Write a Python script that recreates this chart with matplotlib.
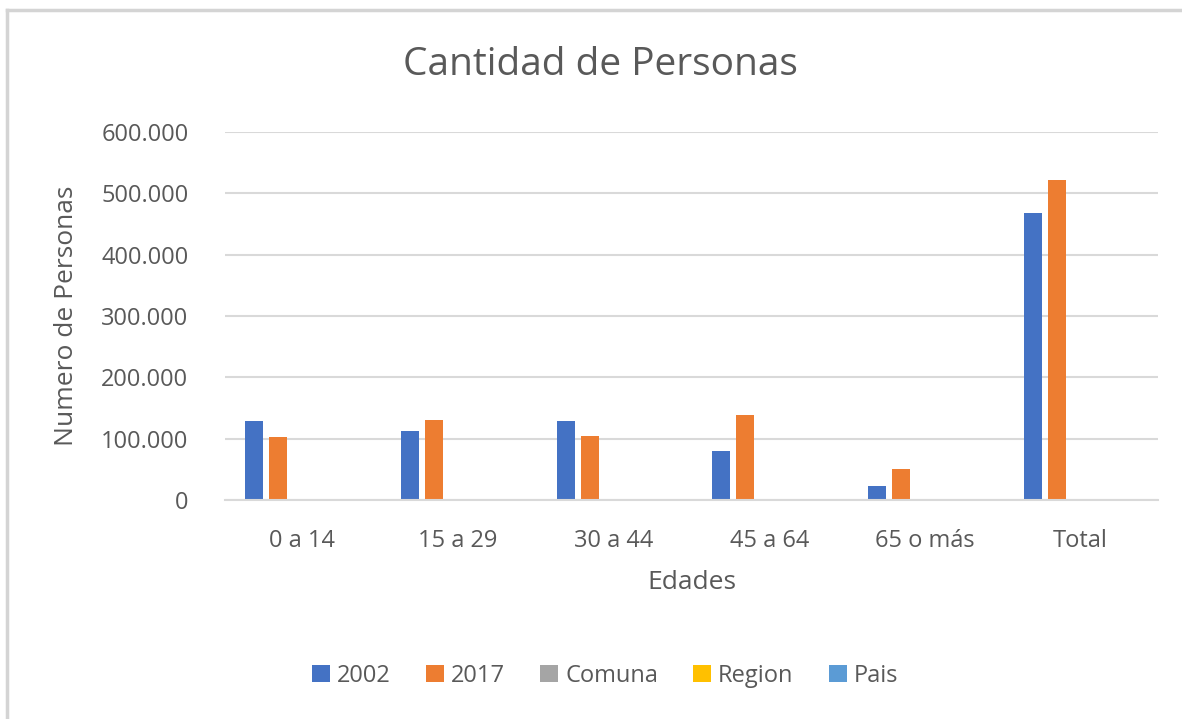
import numpy as np
import matplotlib
matplotlib.use("Agg")
import matplotlib.pyplot as plt
from matplotlib.ticker import FuncFormatter

# --- data ---
categories = ["0 a 14", "15 a 29", "30 a 44", "45 a 64", "65 o más", "Total"]
v2002 = [128000, 113000, 128000, 80000, 22000, 468000]
v2017 = [102000, 131000, 105000, 139000, 51000, 522000]
comuna = [0, 0, 0, 0, 0, 0]
region = [0, 0, 0, 0, 0, 0]
pais = [0, 0, 0, 0, 0, 0]
series_names = ["2002", "2017", "Comuna", "Region", "Pais"]
colors = ["#4472C4", "#ED7D31", "#A5A5A5", "#FFC000", "#5B9BD5"]
yticks = [0, 100000, 200000, 300000, 400000, 500000, 600000]

plt.rcParams['font.family'] = ['Open Sans', 'DejaVu Sans']
txt = "#595959"
grid = "#d9d9d9"

fig = plt.figure(figsize=(11.82, 7.19), dpi=100)
ax = fig.add_axes([0.190, 0.3046, 0.790, 0.5118])

x = np.arange(len(categories))
width = 0.116
step = 0.154
for j, (vals, name, c) in enumerate(zip([v2002, v2017, comuna, region, pais], series_names, colors)):
    ax.bar(x + (j - 2) * step, vals, width, color=c, label=name)

ax.set_xlim(-0.5, len(categories) - 0.5)
ax.set_ylim(0, 600000)
ax.set_yticks(yticks)
ax.yaxis.set_major_formatter(FuncFormatter(lambda v, p: "0" if v == 0 else f"{int(v):,}".replace(",", ".")))
ax.set_xticks(x)
ax.set_xticklabels(categories)
ax.tick_params(axis="both", length=0, labelsize=17, colors=txt)
ax.tick_params(axis="y", pad=26)
ax.tick_params(axis="x", pad=21)
ax.grid(axis="y", color=grid, linewidth=1.5)
ax.set_axisbelow(True)
for s in ["top", "right", "left"]:
    ax.spines[s].set_visible(False)
ax.spines["bottom"].set_color(grid)
ax.spines["bottom"].set_linewidth(1.5)

ax.set_xlabel("Edades", fontsize=19, color=txt, labelpad=12)
ax.set_ylabel("Numero de Personas", fontsize=19, color=txt, labelpad=16)
fig.text(0.508, 0.909, "Cantidad de Personas", ha="center", va="center", fontsize=28, color=txt)

leg = fig.legend(loc="center", bbox_to_anchor=(0.512, 0.060), ncol=5, frameon=False,
                 fontsize=17, handlelength=0.75, handleheight=0.75, handletextpad=0.3,
                 columnspacing=1.5)
for t in leg.get_texts():
    t.set_color(txt)

# light frame on top/left like the screenshot crop
fig.add_artist(plt.Line2D([0.006, 1.0], [1 - 10 / 719] * 2, color="#d4d4d4", linewidth=2.5, transform=fig.transFigure))
fig.add_artist(plt.Line2D([7 / 1182] * 2, [0.0, 1 - 10 / 719], color="#d4d4d4", linewidth=2.5, transform=fig.transFigure))

fig.savefig("out.png", dpi=100)
